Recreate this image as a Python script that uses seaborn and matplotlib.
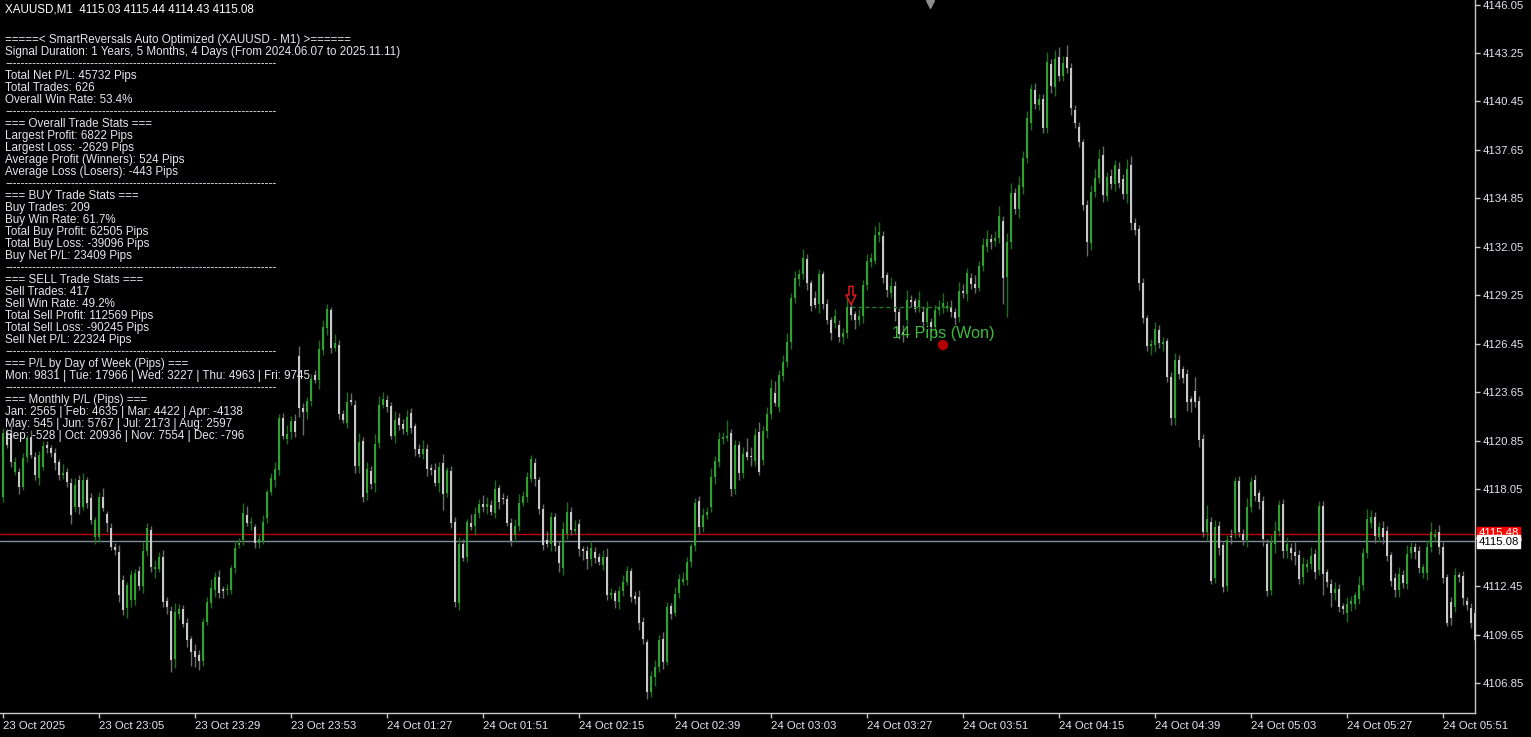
import matplotlib
matplotlib.use("Agg")
import matplotlib.pyplot as plt
from matplotlib.path import Path
import numpy as np
import pandas as pd
import seaborn as sns

# XAUUSD M1 candles (oldest first)
opens = [
    4117.61, 4121.31, 4121.31, 4119.06, 4119.06, 4118.19, 4119.92, 4121.08, 4119.92, 4118.71,
    4119.35, 4120.62, 4120.44, 4120.15, 4119.63, 4118.88, 4119.06, 4118.42, 4117.04, 4118.59,
    4117.04, 4118.59, 4117.56, 4115.30, 4115.30, 4117.61, 4116.63, 4115.82, 4114.73, 4114.44,
    4112.82, 4111.20, 4111.67, 4111.67, 4113.34, 4112.47, 4114.50, 4115.71, 4113.46, 4113.46,
    4114.15, 4111.61, 4111.03, 4108.26, 4110.86, 4111.15, 4110.34, 4109.41, 4108.72, 4108.49,
    4108.14, 4110.40, 4111.49, 4112.24, 4112.99, 4112.30, 4112.24, 4112.24, 4113.51, 4114.84,
    4115.13, 4116.57, 4116.11, 4115.88, 4114.96, 4115.07, 4116.40, 4117.90, 4118.59, 4119.17,
    4122.18, 4120.96, 4121.37, 4122.00, 4125.76, 4122.75, 4122.52, 4123.16, 4124.66, 4124.37,
    4126.10, 4127.37, 4128.41, 4126.22, 4126.39, 4122.41, 4121.89, 4123.21, 4122.93, 4119.40,
    4120.85, 4117.84, 4119.11, 4118.42, 4120.73, 4122.93, 4123.21, 4122.87, 4121.14, 4122.18,
    4121.83, 4121.37, 4122.46, 4121.71, 4120.38, 4120.10, 4120.38, 4119.29, 4119.17, 4118.42,
    4119.58, 4117.84, 4119.11, 4116.17, 4111.49, 4114.90, 4114.15, 4116.11, 4115.94, 4116.69,
    4117.21, 4117.04, 4117.15, 4116.69, 4118.13, 4117.56, 4117.50, 4116.11, 4115.42, 4115.94,
    4117.27, 4117.61, 4118.65, 4119.58, 4118.59, 4116.92, 4115.13, 4114.90, 4116.46, 4114.78,
    4113.51, 4115.48, 4116.75, 4115.65, 4116.05, 4114.61, 4114.50, 4114.03, 4114.44, 4114.15,
    4113.69, 4114.15, 4111.95, 4112.07, 4111.55, 4112.18, 4112.71, 4113.34, 4111.90, 4111.84,
    4110.40, 4109.24, 4106.35, 4107.22, 4107.80, 4109.41, 4108.09, 4111.32, 4110.92, 4112.07,
    4112.71, 4112.82, 4113.86, 4114.78, 4117.38, 4115.88, 4116.57, 4117.04, 4118.77, 4119.63,
    4120.96, 4121.02, 4121.31, 4118.07, 4120.62, 4119.00, 4120.21, 4119.98, 4119.69, 4121.37,
    4119.75, 4121.42, 4122.41, 4123.62, 4122.81, 4124.60, 4125.41, 4126.56, 4129.10, 4130.20,
    4130.49, 4131.36, 4129.97, 4129.10, 4128.76, 4130.49, 4128.76, 4127.83, 4127.66, 4127.54,
    4126.85, 4127.08, 4128.58, 4128.18, 4127.83, 4128.06, 4129.85, 4131.18, 4131.24, 4132.74,
    4132.68, 4130.43, 4129.39, 4129.80, 4128.30, 4127.14, 4127.83, 4128.99, 4128.93, 4128.58,
    4128.30, 4127.72, 4127.72, 4127.43, 4128.41, 4128.53, 4128.53, 4128.58, 4128.30, 4128.01,
    4129.51, 4129.34, 4130.26, 4129.91, 4129.68, 4130.95, 4132.05, 4132.51, 4132.39, 4132.57,
    4133.55, 4130.32, 4132.34, 4135.17, 4134.24, 4135.51, 4137.19, 4139.21, 4141.11, 4140.25,
    4140.59, 4138.92, 4142.61, 4141.29, 4143.02, 4141.92, 4143.02, 4142.38, 4139.96, 4138.98,
    4138.11, 4134.47, 4132.28, 4135.22, 4136.03, 4137.36, 4135.00, 4136.15, 4135.69, 4136.55,
    4135.97, 4135.11, 4136.78, 4133.43, 4133.09, 4129.97, 4127.95, 4126.33, 4126.39, 4127.26,
    4126.45, 4126.62, 4124.54, 4122.18, 4125.52, 4125.00, 4124.72, 4123.27, 4123.73, 4123.16,
    4120.96, 4115.59, 4116.17, 4112.93, 4115.94, 4114.84, 4112.47, 4115.36, 4115.54, 4118.54,
    4115.48, 4115.13, 4117.04, 4118.59, 4117.84, 4117.38, 4114.90, 4112.24, 4114.90, 4115.65,
    4117.21, 4114.50, 4114.67, 4114.44, 4114.26, 4112.99, 4113.57, 4113.74, 4114.32, 4113.40,
    4117.09, 4113.28, 4112.59, 4112.07, 4112.30, 4111.32, 4110.92, 4111.44, 4111.44, 4111.72,
    4112.53, 4114.38, 4116.11, 4116.46, 4115.30, 4115.82, 4115.65, 4114.26, 4112.93, 4112.24,
    4113.11, 4112.59, 4114.38, 4114.73, 4114.50, 4113.23, 4113.23, 4114.73, 4115.30, 4115.59,
    4114.73, 4112.99, 4111.55, 4111.26, 4113.11, 4113.05, 4111.61, 4111.20, 4110.92,
]

closes = [
    4121.31, 4120.62, 4119.63, 4119.63, 4118.19, 4119.86, 4121.02, 4120.04, 4118.88, 4120.04,
    4120.56, 4120.44, 4120.15, 4119.58, 4118.88, 4119.00, 4118.48, 4116.57, 4118.31, 4117.04,
    4118.59, 4117.27, 4116.28, 4116.28, 4117.61, 4116.98, 4116.11, 4114.73, 4114.55, 4111.95,
    4111.09, 4112.53, 4113.11, 4113.23, 4112.47, 4114.50, 4115.82, 4113.57, 4113.57, 4114.15,
    4111.55, 4111.26, 4108.20, 4110.97, 4111.15, 4110.28, 4109.36, 4108.66, 4108.38, 4108.14,
    4110.40, 4111.55, 4112.36, 4112.99, 4112.07, 4112.18, 4112.30, 4113.51, 4114.67, 4114.96,
    4116.69, 4116.11, 4116.17, 4114.96, 4115.19, 4116.17, 4117.90, 4118.71, 4119.23, 4122.18,
    4121.14, 4121.25, 4122.00, 4121.37, 4122.75, 4122.52, 4123.16, 4124.43, 4124.37, 4126.16,
    4127.43, 4128.47, 4126.22, 4126.51, 4122.41, 4122.06, 4123.10, 4123.10, 4119.40, 4120.79,
    4117.61, 4119.23, 4118.36, 4120.67, 4122.93, 4123.27, 4122.81, 4121.14, 4122.06, 4121.77,
    4121.54, 4122.23, 4121.60, 4120.38, 4120.10, 4120.38, 4119.23, 4119.17, 4118.42, 4119.35,
    4117.79, 4119.17, 4116.11, 4111.55, 4114.90, 4114.09, 4116.17, 4115.88, 4116.63, 4117.21,
    4117.04, 4117.21, 4116.75, 4118.08, 4117.32, 4117.50, 4116.11, 4115.07, 4115.94, 4117.27,
    4117.67, 4118.77, 4119.81, 4118.65, 4116.92, 4114.84, 4114.90, 4116.46, 4114.78, 4113.80,
    4115.77, 4116.75, 4115.71, 4115.77, 4114.61, 4114.50, 4114.03, 4114.67, 4114.09, 4113.86,
    4114.15, 4111.95, 4112.07, 4111.61, 4112.18, 4112.71, 4113.34, 4111.84, 4111.72, 4110.34,
    4109.41, 4106.35, 4107.28, 4107.80, 4109.36, 4108.09, 4111.26, 4110.86, 4112.01, 4112.88,
    4112.88, 4113.86, 4114.78, 4117.27, 4115.88, 4116.57, 4116.75, 4118.77, 4119.69, 4120.96,
    4121.08, 4121.14, 4118.07, 4120.62, 4119.00, 4120.10, 4119.92, 4119.92, 4121.19, 4119.06,
    4121.42, 4122.41, 4123.91, 4123.04, 4124.66, 4125.41, 4126.56, 4129.10, 4130.26, 4130.49,
    4131.41, 4129.97, 4128.64, 4128.70, 4130.49, 4128.76, 4127.83, 4127.08, 4128.06, 4126.85,
    4127.08, 4128.58, 4128.12, 4127.83, 4128.06, 4129.85, 4131.24, 4131.41, 4132.74, 4132.91,
    4130.26, 4129.57, 4129.80, 4128.30, 4127.03, 4126.97, 4128.99, 4128.87, 4128.47, 4128.99,
    4127.72, 4128.53, 4127.43, 4128.41, 4128.58, 4128.81, 4128.64, 4128.30, 4127.95, 4129.51,
    4129.39, 4130.55, 4129.91, 4129.68, 4130.95, 4132.16, 4132.51, 4132.34, 4132.57, 4133.84,
    4130.26, 4132.34, 4135.17, 4134.24, 4135.63, 4137.19, 4139.50, 4141.17, 4140.30, 4140.59,
    4138.92, 4142.73, 4141.35, 4142.90, 4141.92, 4142.67, 4142.38, 4140.07, 4139.21, 4138.11,
    4134.47, 4132.34, 4135.22, 4136.03, 4137.13, 4135.05, 4136.09, 4135.69, 4136.78, 4135.74,
    4135.11, 4136.55, 4133.43, 4133.03, 4129.97, 4127.95, 4126.33, 4126.45, 4127.31, 4126.51,
    4126.56, 4124.54, 4122.18, 4125.52, 4124.72, 4124.49, 4123.10, 4123.10, 4123.10, 4120.90,
    4115.59, 4116.34, 4112.76, 4115.88, 4114.67, 4112.42, 4115.13, 4115.30, 4118.54, 4115.59,
    4115.13, 4117.04, 4118.48, 4117.67, 4117.32, 4115.19, 4112.18, 4115.02, 4115.65, 4117.15,
    4114.50, 4114.90, 4114.38, 4114.21, 4112.88, 4113.74, 4113.74, 4114.21, 4113.28, 4117.09,
    4113.17, 4112.71, 4112.07, 4112.30, 4111.26, 4111.15, 4111.44, 4111.61, 4111.95, 4112.53,
    4114.38, 4116.34, 4116.46, 4115.36, 4115.88, 4115.30, 4114.21, 4112.76, 4112.24, 4113.17,
    4112.65, 4114.32, 4114.73, 4114.44, 4113.51, 4113.57, 4114.73, 4115.59, 4115.48, 4114.73,
    4112.93, 4110.34, 4110.63, 4113.11, 4112.99, 4111.78, 4111.38, 4110.34, 4109.36,
]

# wick length above / below the body, in price units
upper_wicks = [
    0.3, 0.2, 0.4, 0.3, 0.2, 0.3, 0.2, 0.4, 0.3, 0.2, 0.3, 0.2, 0.2, 0.3, 0.2, 0.5, 0.2, 0.3, 0.4, 0.3,
    0.4, 0.2, 0.3, 0.2, 0.3, 0.5, 0.2, 0.3, 0.2, 0.4, 0.3, 0.2, 0.3, 0.2, 0.3, 0.5, 0.3, 0.2, 0.4, 0.3,
    0.4, 0.2, 0.3, 0.5, 0.3, 0.2, 0.3, 0.2, 0.4, 0.3, 0.2, 0.3, 0.5, 0.3, 0.4, 0.2, 0.3, 0.2, 0.4, 0.3,
    0.6, 0.5, 0.3, 0.2, 0.3, 0.4, 0.2, 0.3, 0.4, 0.2, 0.3, 0.5, 0.3, 0.4, 0.6, 0.3, 0.2, 0.3, 0.3, 0.5,
    0.4, 0.3, 0.2, 0.5, 0.3, 0.2, 0.6, 0.4, 0.3, 0.5, 0.2, 0.4, 0.3, 0.6, 0.5, 0.4, 0.3, 0.2, 0.5, 0.3,
    0.3, 0.4, 0.3, 0.2, 0.3, 0.5, 0.3, 0.2, 0.4, 0.3, 0.5, 0.2, 0.3, 0.3, 0.4, 0.3, 0.2, 0.5, 0.4, 0.3,
    0.5, 0.4, 0.3, 0.5, 0.2, 0.3, 0.2, 0.3, 0.4, 0.5, 0.3, 0.3, 0.2, 0.3, 0.2, 0.3, 0.5, 0.3, 0.2, 0.3,
    0.4, 0.6, 0.3, 0.5, 0.3, 0.2, 0.3, 0.4, 0.3, 0.2, 0.4, 0.5, 0.3, 0.2, 0.3, 0.4, 0.3, 0.2, 0.3, 0.4,
    0.3, 0.2, 0.3, 0.4, 0.3, 0.4, 0.3, 0.2, 0.4, 0.3, 0.4, 0.3, 0.2, 0.3, 0.3, 0.4, 0.3, 0.5, 0.3, 0.4,
    0.3, 0.9, 0.2, 0.3, 0.2, 0.4, 0.8, 0.5, 0.4, 0.6, 0.3, 0.4, 0.5, 0.7, 0.3, 0.4, 0.5, 0.3, 0.4, 0.3,
    0.5, 0.3, 0.2, 0.4, 0.3, 0.2, 0.3, 0.2, 0.4, 0.3, 0.3, 0.5, 0.3, 0.2, 0.4, 0.3, 0.4, 0.3, 0.5, 0.6,
    0.3, 0.2, 0.5, 0.3, 0.2, 0.4, 0.6, 0.3, 0.2, 0.5, 0.3, 0.4, 0.2, 0.3, 0.4, 0.6, 0.3, 0.4, 0.2, 0.5,
    0.4, 0.3, 0.3, 0.5, 0.3, 0.4, 0.5, 0.3, 0.4, 0.6, 0.3, 0.5, 0.6, 0.3, 0.5, 0.4, 0.4, 0.3, 0.4, 0.3,
    0.3, 0.6, 0.3, 0.5, 0.6, 0.4, 0.7, 0.3, 0.3, 0.3, 0.2, 0.3, 0.4, 0.5, 0.6, 0.5, 0.3, 0.4, 0.3, 0.4,
    0.3, 0.6, 0.5, 0.3, 0.2, 0.3, 0.2, 0.3, 0.4, 0.3, 0.3, 0.2, 0.3, 0.4, 0.3, 0.2, 0.3, 0.2, 0.8, 0.3,
    0.3, 0.8, 0.3, 0.4, 0.3, 0.2, 0.3, 0.4, 0.2, 0.3, 0.3, 0.5, 0.3, 0.3, 0.2, 0.3, 0.3, 0.4, 0.6, 0.3,
    0.3, 0.4, 0.3, 0.6, 0.3, 0.4, 0.3, 0.5, 0.3, 0.3, 0.3, 0.2, 0.3, 0.4, 0.3, 0.2, 0.4, 0.3, 0.2, 0.5,
    0.3, 0.6, 0.4, 0.3, 0.3, 0.4, 0.3, 0.2, 0.3, 0.4, 0.3, 0.5, 0.3, 0.2, 0.3, 0.2, 0.4, 0.6, 0.3, 0.4,
    0.3, 0.2, 0.3, 0.4, 0.2, 0.3, 0.2, 0.3, 0.2,
]

lower_wicks = [
    0.3, 0.2, 0.3, 0.2, 0.4, 0.2, 0.3, 0.2, 0.3, 0.4, 0.2, 0.3, 0.2, 0.4, 0.3, 0.2, 0.3, 0.5, 0.3, 0.4,
    0.2, 0.3, 0.2, 0.4, 0.3, 0.2, 0.5, 0.2, 0.3, 0.4, 0.3, 0.6, 0.4, 0.3, 0.2, 0.4, 0.3, 0.3, 0.5, 0.2,
    0.3, 0.4, 0.7, 0.5, 0.3, 0.2, 0.4, 0.8, 0.6, 0.5, 0.3, 0.2, 0.3, 0.4, 0.3, 0.4, 0.3, 0.2, 0.3, 0.2,
    0.3, 0.2, 0.4, 0.3, 0.3, 0.2, 0.3, 0.2, 0.4, 0.3, 0.2, 0.3, 0.4, 0.3, 0.5, 1.3, 0.4, 0.3, 0.2, 0.5,
    0.3, 0.4, 0.3, 0.2, 0.3, 0.2, 0.3, 0.2, 0.4, 0.4, 0.3, 0.4, 0.3, 0.5, 0.3, 0.2, 0.3, 0.2, 0.4, 0.3,
    0.3, 0.2, 0.3, 0.4, 0.2, 0.3, 0.4, 0.3, 0.2, 0.5, 0.9, 0.2, 0.3, 0.3, 0.4, 0.2, 0.3, 0.2, 0.5, 0.3,
    0.3, 0.4, 0.2, 0.3, 0.4, 0.3, 0.2, 0.3, 0.4, 0.3, 0.2, 0.3, 0.2, 0.4, 0.3, 0.3, 0.2, 0.4, 0.3, 0.5,
    0.4, 0.3, 0.3, 0.2, 0.4, 0.5, 0.6, 0.4, 0.3, 0.2, 0.3, 0.3, 0.2, 0.4, 0.4, 0.3, 0.2, 0.3, 0.3, 0.4,
    0.3, 0.4, 0.3, 0.5, 0.3, 0.4, 0.2, 0.3, 0.2, 0.3, 0.2, 0.3, 0.3, 0.3, 0.4, 0.3, 0.2, 0.3, 0.4, 0.3,
    0.3, 0.2, 0.4, 0.3, 0.4, 0.3, 0.2, 0.5, 0.3, 0.2, 0.3, 0.4, 0.3, 0.2, 0.3, 0.3, 0.3, 0.4, 0.3, 0.4,
    0.3, 0.4, 0.3, 0.2, 0.5, 0.3, 0.2, 0.4, 0.3, 0.3, 0.4, 0.3, 0.3, 0.5, 0.3, 0.4, 0.3, 0.3, 0.2, 0.4,
    0.3, 0.4, 0.3, 0.5, 0.3, 0.4, 0.3, 0.3, 0.2, 0.3, 0.4, 0.3, 0.3, 0.4, 0.3, 0.3, 0.2, 0.3, 0.4, 0.3,
    0.3, 0.4, 0.3, 0.3, 0.2, 0.3, 0.3, 0.4, 0.3, 0.3, 1.5, 2.3, 0.4, 0.3, 0.5, 0.4, 0.3, 0.4, 0.3, 0.3,
    0.3, 0.3, 0.4, 0.5, 0.3, 0.3, 0.3, 0.4, 0.3, 0.3, 0.3, 0.8, 0.4, 0.3, 0.3, 0.4, 0.3, 0.3, 0.4, 0.3,
    0.3, 0.5, 0.4, 0.3, 0.4, 0.3, 0.3, 0.5, 0.4, 0.3, 0.4, 0.3, 0.4, 0.4, 0.3, 0.3, 0.5, 0.6, 0.3, 0.4,
    0.3, 0.5, 0.2, 0.3, 0.4, 0.3, 0.3, 0.4, 0.3, 0.3, 0.3, 0.4, 0.3, 0.3, 0.4, 0.4, 0.3, 0.3, 0.5, 0.3,
    0.4, 0.4, 0.4, 0.5, 0.3, 0.4, 0.3, 0.3, 0.4, 0.3, 1.2, 0.3, 0.8, 0.4, 0.3, 0.3, 0.5, 0.4, 0.3, 0.3,
    0.3, 0.3, 0.3, 0.4, 0.3, 0.4, 0.3, 0.3, 0.4, 0.4, 0.3, 0.3, 0.3, 0.4, 0.3, 0.3, 0.4, 0.3, 0.3, 0.4,
    0.3, 0.2, 0.4, 0.3, 0.3, 0.4, 0.3, 0.3, 0.2,
]

time_labels = [
    "23 Oct 2025", "23 Oct 23:05", "23 Oct 23:29", "23 Oct 23:53",
    "24 Oct 01:27", "24 Oct 01:51", "24 Oct 02:15", "24 Oct 02:39",
    "24 Oct 03:03", "24 Oct 03:27", "24 Oct 03:51", "24 Oct 04:15",
    "24 Oct 04:39", "24 Oct 05:03", "24 Oct 05:27", "24 Oct 05:51",
]
label_every = 24  # bars between time labels

price_ticks = [4146.05, 4143.25, 4140.45, 4137.65, 4134.85, 4132.05, 4129.25, 4126.45,
               4123.65, 4120.85, 4118.05, 4115.25, 4112.45, 4109.65, 4106.85]

header = "XAUUSD,M1  4115.03 4115.44 4114.43 4115.08"
bid_price = 4115.08
ask_price = 4115.48

SEP = "-" * 70
stats_lines = [
    "=====< SmartReversals Auto Optimized (XAUUSD - M1) >======",
    "Signal Duration: 1 Years, 5 Months, 4 Days (From 2024.06.07 to 2025.11.11)",
    SEP,
    "Total Net P/L: 45732 Pips",
    "Total Trades: 626",
    "Overall Win Rate: 53.4%",
    SEP,
    "=== Overall Trade Stats ===",
    "Largest Profit: 6822 Pips",
    "Largest Loss: -2629 Pips",
    "Average Profit (Winners): 524 Pips",
    "Average Loss (Losers): -443 Pips",
    SEP,
    "=== BUY Trade Stats ===",
    "Buy Trades: 209",
    "Buy Win Rate: 61.7%",
    "Total Buy Profit: 62505 Pips",
    "Total Buy Loss: -39096 Pips",
    "Buy Net P/L: 23409 Pips",
    SEP,
    "=== SELL Trade Stats ===",
    "Sell Trades: 417",
    "Sell Win Rate: 49.2%",
    "Total Sell Profit: 112569 Pips",
    "Total Sell Loss: -90245 Pips",
    "Sell Net P/L: 22324 Pips",
    SEP,
    "=== P/L by Day of Week (Pips) ===",
    "Mon: 9831 | Tue: 17966 | Wed: 3227 | Thu: 4963 | Fri: 9745",
    SEP,
    "=== Monthly P/L (Pips) ===",
    "Jan: 2565 | Feb: 4635 | Mar: 4422 | Apr: -4138",
    "May: 545 | Jun: 5767 | Jul: 2173 | Aug: 2597",
    "Sep: -528 | Oct: 20936 | Nov: 7554 | Dec: -796",
]

# sell signal and its result
signal_bar = 212
signal_arrow_price = 4129.25
trade_price = 4128.58
trade_end_bar = 237
exit_bar = 235
exit_price = 4126.39
trade_label = "14 Pips (Won)"
trade_label_bar = 222.3
trade_label_price = 4127.03
shift_marker_bar = 231.7

# colours
BULL_BODY, BEAR_BODY = "#2ea12e", "#c9c9c9"
BULL_WICK, BEAR_WICK = "#1d6f1d", "#6c6c6c"
TEXT_COLOR = "#e4e4ee"
AXIS_COLOR = "#c8c8c8"


def build_frame():
    df = pd.DataFrame({"open": opens, "close": closes,
                       "up": upper_wicks, "down": lower_wicks})
    df["bar"] = np.arange(len(df))
    df["top"] = df[["open", "close"]].max(axis=1)
    df["bottom"] = df[["open", "close"]].min(axis=1)
    df["high"] = df["top"] + df["up"]
    df["low"] = df["bottom"] - df["down"]
    df["bull"] = df["close"] > df["open"]
    return df


def down_arrow():
    verts = [(-0.22, 1.0), (0.22, 1.0), (0.22, 0.05), (0.55, 0.05), (0.0, -1.0),
             (-0.55, 0.05), (-0.22, 0.05), (-0.22, 1.0)]
    codes = [Path.MOVETO] + [Path.LINETO] * 6 + [Path.CLOSEPOLY]
    return Path(verts, codes)


df = build_frame()

sns.set_style("dark", {"axes.facecolor": "black", "figure.facecolor": "black",
                       "axes.grid": False})
plt.rcParams["font.family"] = ["Liberation Sans", "DejaVu Sans"]

W, H = 1531, 737
fig = plt.figure(figsize=(W / 100, H / 100), dpi=100, facecolor="black")
ax = fig.add_axes([0, 24 / H, 1475 / W, 713 / H])
ax.set_facecolor("black")

# bid / ask lines behind the candles
ax.axhline(ask_price, color="#c00000", lw=1, zorder=1)
ax.axhline(bid_price, color="#7f8fa0", lw=1, zorder=1)

# candles
wick_colors = np.where(df["bull"], BULL_WICK, BEAR_WICK)
body_colors = np.where(df["bull"], BULL_BODY, BEAR_BODY)
ax.vlines(df["bar"], df["low"], df["high"], colors=wick_colors, lw=1, zorder=2)
body_h = (df["top"] - df["bottom"]).clip(lower=0.06)
ax.bar(df["bar"], body_h, bottom=df["bottom"], width=0.72, color=body_colors,
       linewidth=0, zorder=3)

# trade markers
ax.plot([signal_bar, trade_end_bar], [trade_price, trade_price], color="#1f7a1f",
        lw=1, ls=(0, (3, 2)), zorder=4)
ax.scatter([signal_bar], [signal_arrow_price], marker=down_arrow(), s=170,
           facecolors="none", edgecolors="#e01a1a", linewidths=1.1, zorder=6)
sns.scatterplot(x=[exit_bar], y=[exit_price], color="#b30000", s=55,
                edgecolor="none", ax=ax, zorder=6, legend=False)
ax.text(trade_label_bar, trade_label_price, trade_label, color="#3dbb3d",
        fontsize=11.6, ha="left", va="center", zorder=7)

# axes
ax.set_xlim(-0.75, 368)
ax.set_ylim(4105.14, 4146.31)
for side in ("top", "left"):
    ax.spines[side].set_visible(False)
for side in ("right", "bottom"):
    ax.spines[side].set_visible(True)
    ax.spines[side].set_color(AXIS_COLOR)
    ax.spines[side].set_linewidth(1)

ax.yaxis.tick_right()
ax.set_yticks(price_ticks)
ax.set_yticklabels([f"{p:.2f}" for p in price_ticks])
ax.set_xticks(np.arange(len(time_labels)) * label_every)
ax.set_xticklabels(time_labels, ha="left")
ax.tick_params(axis="y", right=True, left=False, length=3.5, width=1, color=AXIS_COLOR,
               labelcolor=TEXT_COLOR, labelsize=8.2, pad=2)
ax.tick_params(axis="x", bottom=True, length=3.5, width=1, color=AXIS_COLOR,
               labelcolor=TEXT_COLOR, labelsize=8.2, pad=2)
ax.set_xlabel("")
ax.set_ylabel("")

# chart shift marker at the top
ax.plot([shift_marker_bar], [4146.08], marker="v", markersize=6, color="#8c8c8c",
        clip_on=False, zorder=5)

# price tags on the scale (bid tag sits on top of the ask tag, as on the terminal)
ax.annotate(f"{ask_price:.2f}", xy=(1, ask_price), xycoords=("axes fraction", "data"),
            xytext=(2.5, 0.5), textcoords="offset points", ha="left", va="center",
            color="white", fontsize=8.2,
            bbox=dict(boxstyle="square,pad=0.12", fc="#ff0000", ec="#ff0000"),
            annotation_clip=False, zorder=8)
ax.annotate(f"{bid_price:.2f}", xy=(1, bid_price), xycoords=("axes fraction", "data"),
            xytext=(2.5, -0.5), textcoords="offset points", ha="left", va="center",
            color="black", fontsize=8.2,
            bbox=dict(boxstyle="square,pad=0.12", fc="white", ec="white"),
            annotation_clip=False, zorder=9)

# text overlay in the top-left corner
fig.text(5 / W, 1 - 10 / H, header, color="white", fontsize=8.4, va="center", ha="left")
for k, line in enumerate(stats_lines):
    fig.text(5 / W, 1 - (40 + 12 * k) / H, line, color=TEXT_COLOR, fontsize=8.4,
             va="center", ha="left")

fig.savefig("out.png", dpi=100, facecolor="black")
